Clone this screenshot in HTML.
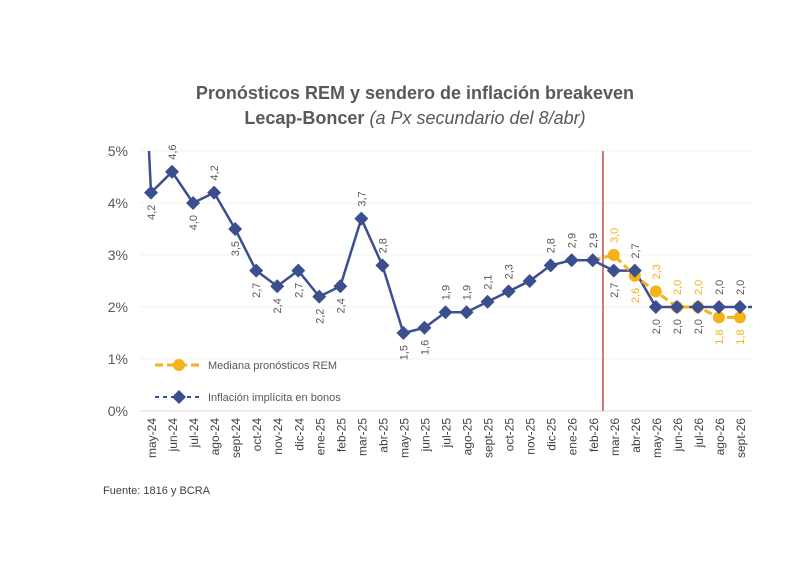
<!DOCTYPE html>
<html><head><meta charset="utf-8"><style>
body{margin:0;background:#fff;width:800px;height:563px;overflow:hidden;font-family:"Liberation Sans",sans-serif}
</style></head><body>
<svg id="c" width="800" height="563" xmlns="http://www.w3.org/2000/svg" font-family="Liberation Sans, sans-serif">
<text x="415" y="99" text-anchor="middle" font-size="18" font-weight="bold" fill="#595959">Pronósticos REM y sendero de inflación breakeven</text>
<text x="415" y="124" text-anchor="middle" font-size="18" fill="#595959"><tspan font-weight="bold">Lecap-Boncer</tspan> <tspan font-style="italic">(a Px secundario del 8/abr)</tspan></text>
<text x="103" y="494" font-size="11" fill="#404040">Fuente: 1816 y BCRA</text>
<g id="g"></g>
</svg>
<script>
const categories=["may-24","jun-24","jul-24","ago-24","sept-24","oct-24","nov-24","dic-24","ene-25","feb-25","mar-25","abr-25","may-25","jun-25","jul-25","ago-25","sept-25","oct-25","nov-25","dic-25","ene-26","feb-26","mar-26","abr-26","may-26","jun-26","jul-26","ago-26","sept-26"];
const bondValues=[4.2,4.6,4.0,4.2,3.5,2.7,2.4,2.7,2.2,2.4,3.7,2.8,1.5,1.6,1.9,1.9,2.1,2.3,2.5,2.8,2.9,2.9,2.7,2.7,2.0,2.0,2.0,2.0,2.0];
const bondLabelPos=["b","a","b","a","b","b","b","b","b","b","a","a","b","b","a","a","a","a","n","a","a","a","b","a","b","b","b","a","a"];
const remValues=[null,null,null,null,null,null,null,null,null,null,null,null,null,null,null,null,null,null,null,null,null,2.9,3.0,2.6,2.3,2.0,2.0,1.8,1.8];
const remLabelPos=["n","n","n","n","n","n","n","n","n","n","n","n","n","n","n","n","n","n","n","n","n","n","a","b","a","a","a","b","b"];
const yTicks=[0,1,2,3,4,5];
const NS="http://www.w3.org/2000/svg",g=document.getElementById("g");
const x=i=>151+i*(740-151)/(categories.length-1), y=v=>411-v*52;
function el(t,a,p){const e=document.createElementNS(NS,t);for(const k in a)e.setAttribute(k,a[k]);(p||g).appendChild(e);return e;}
yTicks.forEach(v=>{
 const l=el("line",{x1:140,x2:752,y1:y(v),y2:y(v),stroke:v==0?"#d9d9d9":"#f0f0f0","stroke-width":1});
 
 
 const t=el("text",{x:128,y:y(v)+5,"text-anchor":"end","font-size":14,fill:"#595959"});t.textContent=v+"%";
 
 
});
categories.forEach((c,i)=>{
 const t=el("text",{transform:`translate(${x(i)+5},418) rotate(-90)`,"text-anchor":"end","font-size":12,fill:"#404040"});t.textContent=c;
 
 
});
const rl=el("line",{x1:603,x2:603,y1:151,y2:411,stroke:"#c0504d","stroke-width":1.5});


// bond line
let d=`M${x(0)-2},151 L${x(0)},${y(bondValues[0])}`;
bondValues.forEach((v,i)=>{if(i>0)d+=` L${x(i)},${y(v)}`;});
const bl=el("path",{d,fill:"none",stroke:"#3b4f8f","stroke-width":2.5});


const be=el("line",{x1:x(28),x2:752,y1:y(2),y2:y(2),stroke:"#3b4f8f","stroke-width":2.5,"stroke-dasharray":"4 4"});


// rem line
let rd="";remValues.forEach((v,i)=>{if(v!=null)rd+=(rd?" L":"M")+x(i)+","+y(v);});
const rp=el("path",{d:rd,fill:"none",stroke:"#f5b31a","stroke-width":3,"stroke-dasharray":"8 4"});


function diamond(cx,cy,col){return el("path",{d:`M${cx},${cy-7}L${cx+7},${cy}L${cx},${cy+7}L${cx-7},${cy}Z`,fill:col});}
function label(i,v,pos,col,name){
 if(pos=="n")return;
 const cy=y(v);let t;
 if(pos=="a")t=el("text",{transform:`translate(${x(i)+4},${cy-12}) rotate(-90)`,"text-anchor":"start","font-size":11,fill:col});
 else t=el("text",{transform:`translate(${x(i)+4},${cy+12}) rotate(-90)`,"text-anchor":"end","font-size":11,fill:col});
 t.textContent=v.toFixed(1).replace(".",",");
 
 
}
remValues.forEach((v,i)=>{if(v==null||i==21)return;
 const m=el("circle",{cx:x(i),cy:y(v),r:6,fill:"#f5b31a"});
 
 
 label(i,v,remLabelPos[i],"#f5b31a","rem-value-label");
});
bondValues.forEach((v,i)=>{
 const m=diamond(x(i),y(v),"#3b4f8f");
 
 
 label(i,v,bondLabelPos[i],"#595959","bond-value-label");
});
// legend
const l1=el("line",{x1:155,x2:203,y1:365,y2:365,stroke:"#f5b31a","stroke-width":3,"stroke-dasharray":"8 4"});


el("circle",{cx:179,cy:365,r:6,fill:"#f5b31a"});
const t1=el("text",{x:208,y:369,"font-size":11,fill:"#595959"});t1.textContent="Mediana pronósticos REM";


const l2=el("line",{x1:155,x2:203,y1:397,y2:397,stroke:"#3b4f8f","stroke-width":2,"stroke-dasharray":"4 4"});


diamond(179,397,"#3b4f8f");
const t2=el("text",{x:208,y:401,"font-size":11,fill:"#595959"});t2.textContent="Inflación implícita en bonos";


</script>
</body></html>
